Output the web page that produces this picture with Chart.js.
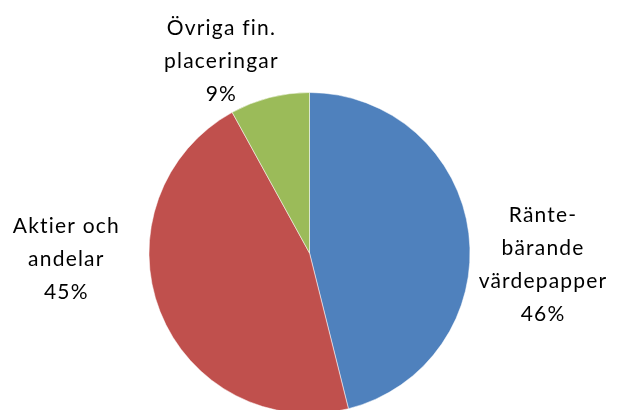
<!DOCTYPE html>
<html>
<head>
<meta charset="utf-8">
<script src="https://cdn.jsdelivr.net/npm/chart.js@4"></script>
<style>
    html, body { margin: 0; padding: 0; background: #fff; overflow: hidden; }
    #wrap { width: 619px; height: 420px; }
</style>
</head>
<body>
<div id="wrap"><canvas id="pieChart" width="619" height="420"></canvas></div>
<script>
// Chart data
const categories = ['Ränte-bärande värdepapper', 'Aktier och andelar', 'Övriga fin. placeringar'];
const shares = [46.1, 45.9, 8.0];          // slice sizes
const pctLabels = ['46%', '45%', '9%'];    // percentages as printed on the chart
const labelLines = [
    ['Ränte-', 'bärande', 'värdepapper'],
    ['Aktier och', 'andelar'],
    ['Övriga fin.', 'placeringar']
];
const sliceColors = ['#4F81BD', '#C0504D', '#9BBB59'];

// label offsets from the pie centre, in units of radius
const labelOffsets = [[1.455, 0.07], [-1.515, 0.04], [-0.549, -1.195]];

// Draw the data labels outside the slices
const outsideLabels = {
    id: 'outsideLabels',
    afterDatasetsDraw(chart) {
        const ctx = chart.ctx;
        const meta = chart.getDatasetMeta(0);
        ctx.save();
        ctx.font = '21px Lato, "Open Sans", sans-serif';
        ctx.fillStyle = '#000';
        ctx.textAlign = 'center';
        ctx.textBaseline = 'middle';
        if (ctx.letterSpacing !== undefined) ctx.letterSpacing = '1.2px';
        const lineHeight = 33;
        meta.data.forEach((arc, i) => {
            const lines = labelLines[i].concat([pctLabels[i]]);
            const x = arc.x + labelOffsets[i][0] * arc.outerRadius;
            const y = arc.y + labelOffsets[i][1] * arc.outerRadius;
            const top = y - (lines.length - 1) * lineHeight / 2;
            lines.forEach((line, j) => {
                ctx.fillText(line, x, top + j * lineHeight);
            });
        });
        ctx.restore();
    }
};

const pieChart = new Chart(document.getElementById('pieChart'), {
    type: 'pie',
    data: {
        labels: categories,
        datasets: [{
            data: shares,
            backgroundColor: sliceColors,
            borderColor: 'rgba(255,255,255,0.5)',
            borderWidth: 1
        }]
    },
    options: {
        responsive: false,
        animation: false,
        layout: { padding: { top: 92, bottom: 6, left: 0, right: 0 } },
        plugins: {
            legend: { display: false },
            tooltip: { enabled: false }
        }
    },
    plugins: [outsideLabels]
});
</script>
</body>
</html>
